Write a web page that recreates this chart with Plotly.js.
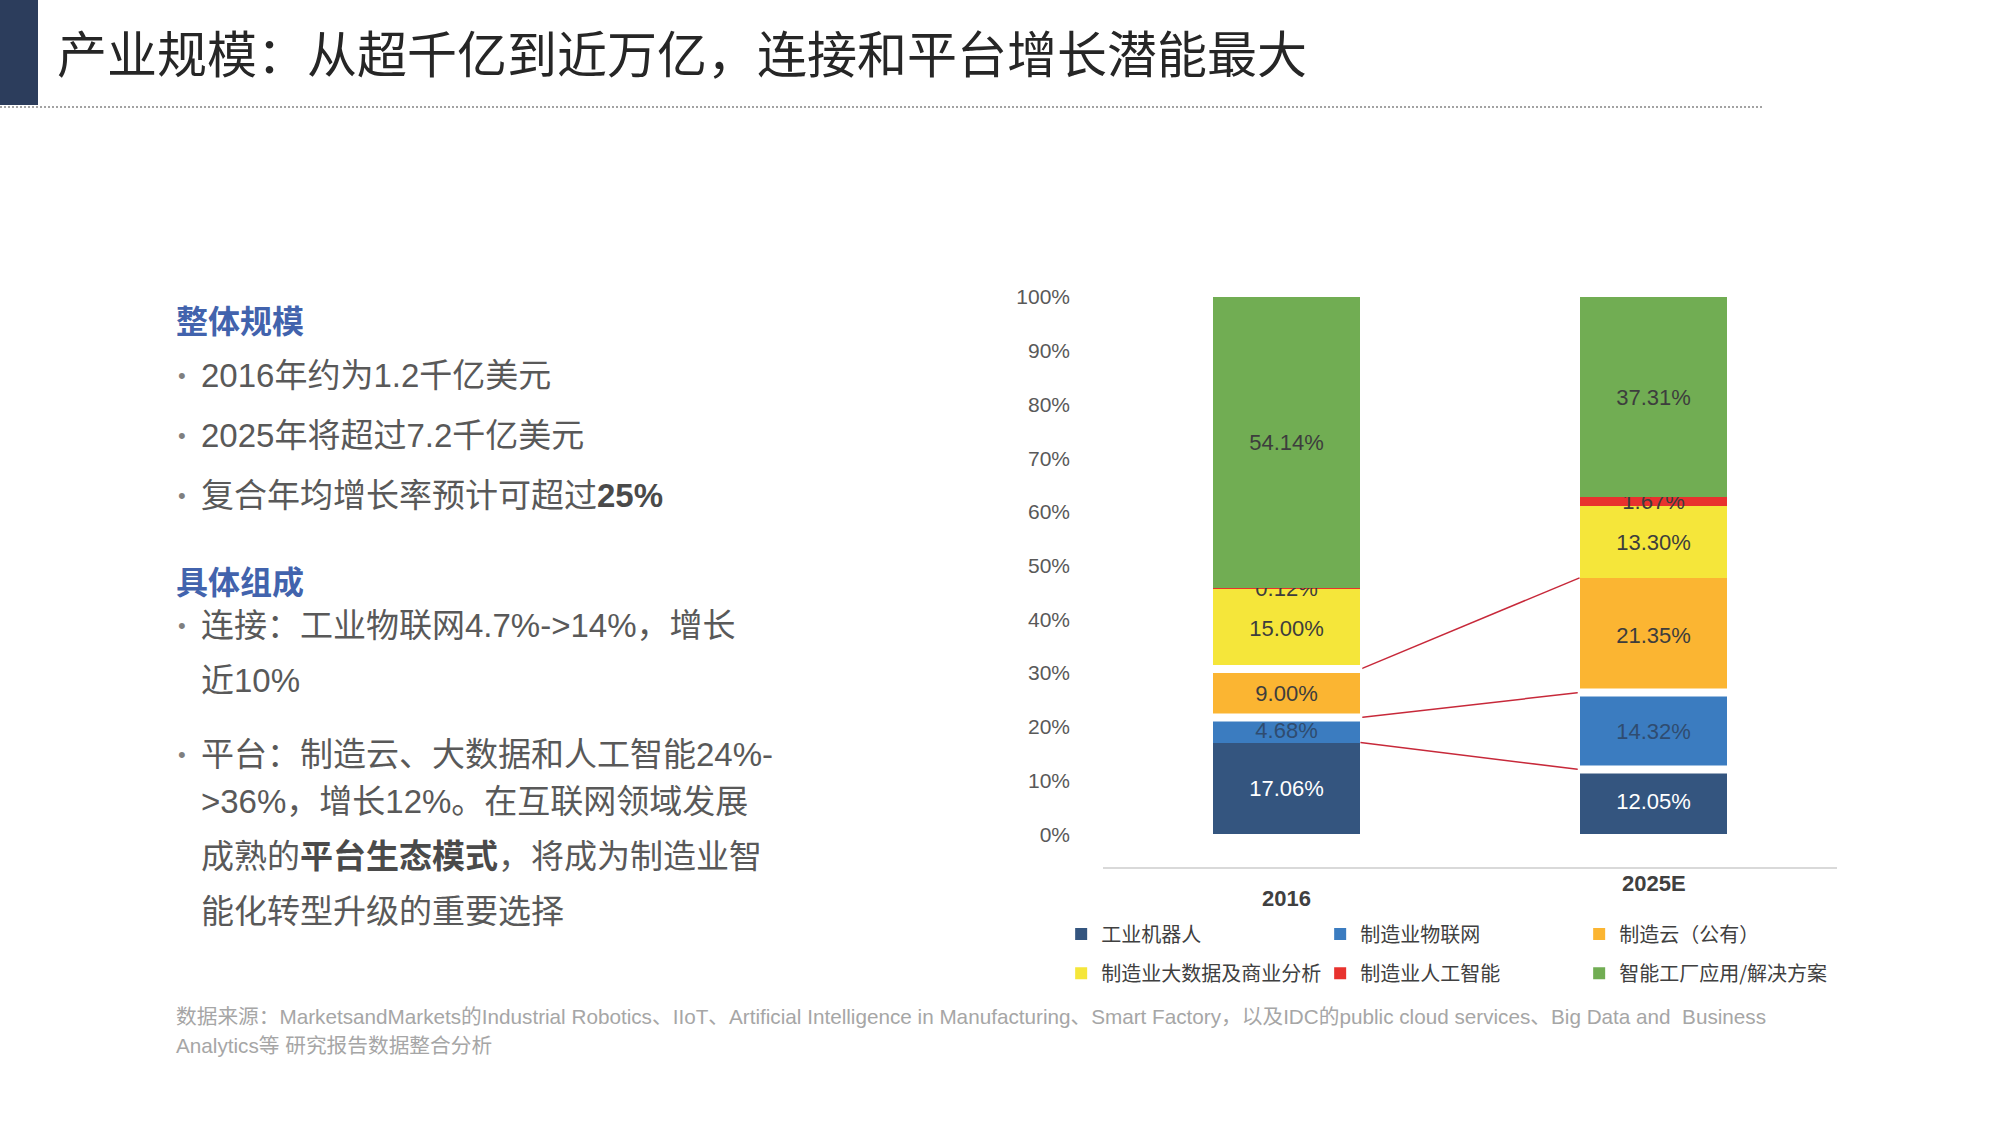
<!DOCTYPE html>
<html>
<head>
<meta charset="utf-8">
<script src="https://cdn.plot.ly/plotly-3.0.1.min.js"></script>
<style>
  html, body { margin: 0; padding: 0; background: #fff; }
  #page { position: relative; width: 2000px; height: 1125px; overflow: hidden; background: #fff;
          font-family: "Liberation Sans", "Noto Sans CJK SC", sans-serif; }
  #chart { position: absolute; left: 0; top: 0; width: 2000px; height: 1125px; z-index: 1; }
  .t { position: absolute; white-space: nowrap; z-index: 2; }
  .cornerBar { position: absolute; left: 0; top: 0; width: 38px; height: 105px; background: #2C3D5C; z-index: 2; }
  .rule { position: absolute; left: 0; top: 106px; width: 1762px; border-top: 2px dotted #A3A3A3; z-index: 2; }
  .title { left: 57px; top: 20px; font-size: 50px; line-height: 62px; color: #262626;
           font-family: "Noto Sans CJK SC", sans-serif; }
  .head { left: 176px; font-size: 32px; line-height: 40px; color: #4263AD; font-weight: bold;
          font-family: "Noto Sans CJK SC", sans-serif; }
  .body { left: 201px; font-size: 33px; line-height: 40px; color: #595959; }
  .body b { color: #4a4a4a; }
  .dot { left: 178px; font-size: 22px; line-height: 40px; color: #7F7F7F; }
  .note { left: 176px; font-size: 20.7px; line-height: 24px; color: #A6A6A6; }
</style>
</head>
<body>
<div id="page">
  <div id="chart"></div>

  <div class="cornerBar"></div>
  <div class="rule"></div>
  <div class="t title">产业规模：从超千亿到近万亿，连接和平台增长潜能最大</div>

  <div class="t head" style="top:299px">整体规模</div>
  <div class="t dot" style="top:356px">•</div>
  <div class="t body" style="top:356px">2016年约为1.2千亿美元</div>
  <div class="t dot" style="top:416px">•</div>
  <div class="t body" style="top:416px">2025年将超过7.2千亿美元</div>
  <div class="t dot" style="top:476px">•</div>
  <div class="t body" style="top:476px">复合年均增长率预计可超过<b>25%</b></div>

  <div class="t head" style="top:560px">具体组成</div>
  <div class="t dot" style="top:606px">•</div>
  <div class="t body" style="top:606px">连接：工业物联网4.7%-&gt;14%，增长</div>
  <div class="t body" style="top:661px">近10%</div>
  <div class="t dot" style="top:735px">•</div>
  <div class="t body" style="top:735px">平台：制造云、大数据和人工智能24%-</div>
  <div class="t body" style="top:782px">&gt;36%，增长12%。在互联网领域发展</div>
  <div class="t body" style="top:837px">成熟的<b>平台生态模式</b>，将成为制造业智</div>
  <div class="t body" style="top:892px">能化转型升级的重要选择</div>

  <div class="t note" style="top:1005px">数据来源：MarketsandMarkets的Industrial Robotics、IIoT、Artificial Intelligence in Manufacturing、Smart Factory，以及IDC的public cloud services、Big Data and&nbsp; Business</div>
  <div class="t note" style="top:1034px">Analytics等 研究报告数据整合分析</div>
</div>

<script>
// Share of each segment in the two years (percent of total)
const categories = ['2016', '2025E'];
const seriesNames = ['工业机器人', '制造业物联网', '制造云（公有）', '制造业大数据及商业分析', '制造业人工智能', '智能工厂应用/解决方案'];
const robots = [17.06, 12.05];
const iot = [4.68, 14.32];
const cloud = [9.00, 21.35];
const bigData = [15.00, 13.30];
const ai = [0.12, 1.67];
const smartFactory = [54.14, 37.31];
const yTicks = [0, 10, 20, 30, 40, 50, 60, 70, 80, 90, 100];

// Styling
const colors = ['#34557F', '#3B7CC0', '#FBB532', '#F5E63A', '#E8322E', '#71AD53'];
const labelColors = ['#FFFFFF', '#2F4C70', '#3D3D3D', '#3D3D3D', '#3D3D3D', '#3D3D3D'];
const barWidth = 0.403;
const halfW = barWidth / 2;
const gapAfter = [[1, 2], [0, 1]];   // segment boundaries drawn with a white separation, per bar
const connectorSeries = [0, 1, 2];   // segment tops linked between the two bars
const baseFont = 'Liberation Sans, Noto Sans CJK SC, sans-serif';

const stacks = [robots, iot, cloud, bigData, ai, smartFactory];
const xPos = categories.map((c, i) => i);

// cumulative top of each segment
const tops = stacks.map((s, k) => xPos.map(i => stacks.slice(0, k + 1).reduce((a, arr) => a + arr[i], 0)));

const traces = stacks.map((vals, k) => ({
  type: 'bar',
  name: seriesNames[k],
  x: xPos,
  y: vals,
  width: barWidth,
  marker: { color: colors[k], line: { width: 0 } },
  texttemplate: '%{y:.2f}%',
  textposition: 'inside',
  insidetextanchor: 'middle',
  textangle: 0,
  constraintext: 'none',
  textfont: { family: baseFont, size: 22, color: labelColors[k] },
  hoverinfo: 'skip',
  legend: k < 3 ? 'legend' : 'legend2'
}));

connectorSeries.forEach(k => {
  traces.push({
    type: 'scatter',
    mode: 'lines',
    x: [xPos[0] + halfW, xPos[1] - halfW],
    y: [tops[k][0], tops[k][1]],
    line: { color: '#C7293A', width: 1.5 },
    showlegend: false,
    hoverinfo: 'skip'
  });
});

const shapes = [];
gapAfter.forEach((list, i) => {
  list.forEach(k => {
    shapes.push({
      type: 'rect', xref: 'x', yref: 'y',
      x0: xPos[i] - halfW - 0.005, x1: xPos[i] + halfW + 0.005,
      ysizemode: 'pixel', yanchor: tops[k][i], y0: -4, y1: 4,
      fillcolor: '#FFFFFF', line: { width: 0 }, layer: 'above'
    });
  });
});

const labelY = [-0.0561, -0.0298];
const annotations = categories.map((c, i) => ({
  x: xPos[i], xref: 'x', y: labelY[i], yref: 'paper',
  text: '<b>' + c + '</b>', showarrow: false, yanchor: 'middle',
  font: { family: baseFont, size: 22, color: '#404040' }
}));

const legendBase = {
  orientation: 'h', xanchor: 'left', yanchor: 'top', x: -0.057,
  entrywidth: 214, traceorder: 'normal', bgcolor: 'rgba(0,0,0,0)',
  font: { family: 'Noto Sans CJK SC, sans-serif', size: 20, color: '#404040' }
};

const layout = {
  width: 2000, height: 1125,
  margin: { l: 1103, r: 163, t: 297, b: 258 },
  paper_bgcolor: '#FFFFFF', plot_bgcolor: 'rgba(0,0,0,0)',
  barmode: 'stack',
  font: { family: baseFont, color: '#595959' },
  xaxis: {
    range: [-0.5, 1.5], showticklabels: false, showgrid: false, zeroline: false,
    showline: true, linecolor: '#D9D9D9', linewidth: 2, ticks: '', fixedrange: true
  },
  yaxis: {
    range: [-6.1, 100], tickvals: yTicks, ticktext: yTicks.map(v => v + '%'),
    showgrid: false, zeroline: false, showline: false, ticks: '',
    ticklabelstandoff: 32, tickfont: { family: baseFont, size: 21, color: '#595959' }, fixedrange: true
  },
  legend: Object.assign({}, legendBase, { y: -0.0835 }),
  legend2: Object.assign({}, legendBase, { y: -0.152 }),
  shapes: shapes,
  annotations: annotations,
  showlegend: true
};

Plotly.newPlot('chart', traces, layout, { displayModeBar: false, staticPlot: true });
</script>
</body>
</html>
